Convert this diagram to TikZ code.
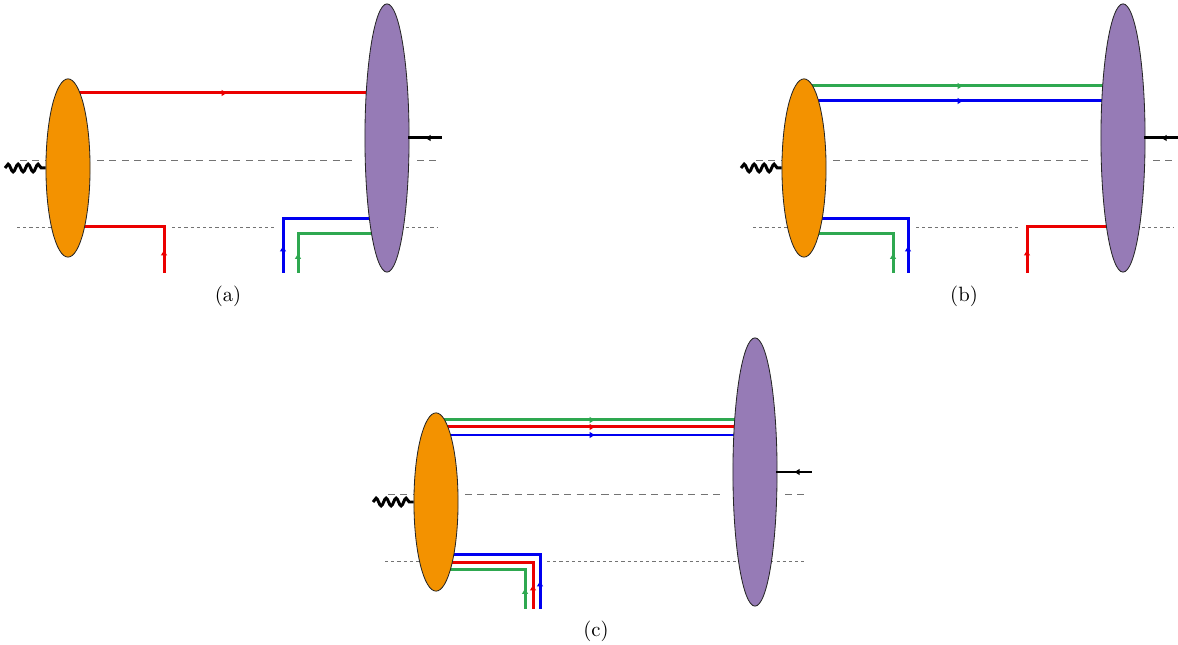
\documentclass[tikz,border=0pt]{standalone}
\usepackage{xcolor}
\usepackage{tikz}
\usetikzlibrary{arrows.meta,positioning,shapes.geometric,backgrounds,decorations.pathmorphing,decorations.markings}

\definecolor{blobOrange}{RGB}{243,146,0}
\definecolor{blobPurple}{RGB}{150,123,182}
\definecolor{qred}{RGB}{235,0,0}
\definecolor{qblue}{RGB}{0,0,240}
\definecolor{qgreen}{RGB}{46,168,80}

\begin{document}
\begin{tikzpicture}[
  x=0.017cm, y=-0.017cm,
  hadron/.style={draw=black!85, ellipse, inner sep=0pt, fill=blobOrange,
                 minimum width=0.75cm, minimum height=3.03cm},
  target/.style={draw=black!85, ellipse, inner sep=0pt, fill=blobPurple,
                 minimum width=0.75cm, minimum height=4.56cm},
  quark/.style={line width=1.45pt, line cap=rect},
  midarrow/.style={postaction={decorate}, decoration={markings,
                   mark=at position 0.5 with {\arrow{Latex[length=2.8pt,width=3.2pt]}}}},
  cut/.style={draw=black!55, line width=0.45pt, dash pattern=on 3.4pt off 2.6pt},
  floor/.style={draw=black!55, line width=0.45pt, dash pattern=on 1.5pt off 1.5pt},
  photon/.style={line width=1.45pt, decorate,
                 decoration={snake, amplitude=0.065cm, segment length=0.17cm}}
]
\useasboundingbox (0,0) rectangle (1178,645);

% (a)
\begin{scope}[shift={(68,168)}]
  \node[hadron] (oa) at (0,0) {};
  \node[target] (pa) at (319,-30) {};
  \node (la) at (160,128) {(a)};
  \coordinate (a-top) at (0,-75);
  \coordinate (a-rb) at (96,104);
  \coordinate (a-bb) at (215,104);
  \coordinate (a-gb) at (230,104);
  \coordinate (a-k) at (372,-30);
  \begin{pgfonlayer}{background}
    \draw[cut] (-48,-8) -- (0,-8) (29,-8) -- (284,-8) (349,-8) -- (369,-8);
    \draw[floor] (-51,59) -- (0,59) (104,59) -- (207,59) (319,59) -- (369,59);
    \draw[quark, qred, midarrow] (a-top) -- (a-top -| pa);
    \draw[quark, qred, midarrow] (a-rb) -- ++(0,-45) coordinate (a-rc);
    \draw[quark, qred] (a-rc) -- (a-rc -| oa);
    \draw[quark, qblue, midarrow] (a-bb) -- ++(0,-53) coordinate (a-bc);
    \draw[quark, qblue] (a-bc) -- (a-bc -| pa);
    \draw[quark, qgreen, midarrow] (a-gb) -- ++(0,-38) coordinate (a-gc);
    \draw[quark, qgreen] (a-gc) -- (a-gc -| pa);
  \end{pgfonlayer}
  \draw[photon] (-63,0) -- (oa.west);
  \draw[quark, midarrow] (a-k) -- (pa.east);
\end{scope}

% (b)
\begin{scope}[shift={(804,168)}]
  \node[hadron] (ob) at (0,0) {};
  \node[target] (pb) at (319,-30) {};
  \node (lb) at (160,128) {(b)};
  \coordinate (b-gt) at (0,-82);
  \coordinate (b-bt) at (0,-67);
  \coordinate (b-bb) at (104,104);
  \coordinate (b-gb) at (89,104);
  \coordinate (b-rb) at (223,104);
  \coordinate (b-k) at (372,-30);
  \begin{pgfonlayer}{background}
    \draw[cut] (-48,-8) -- (0,-8) (29,-8) -- (284,-8) (349,-8) -- (369,-8);
    \draw[floor] (-51,59) -- (0,59) (112,59) -- (215,59) (319,59) -- (369,59);
    \draw[quark, qgreen, midarrow] (b-gt) -- (b-gt -| pb);
    \draw[quark, qblue, midarrow] (b-bt) -- (b-bt -| pb);
    \draw[quark, qblue, midarrow] (b-bb) -- ++(0,-53) coordinate (b-bc);
    \draw[quark, qblue] (b-bc) -- (b-bc -| ob);
    \draw[quark, qgreen, midarrow] (b-gb) -- ++(0,-38) coordinate (b-gc);
    \draw[quark, qgreen] (b-gc) -- (b-gc -| ob);
    \draw[quark, qred, midarrow] (b-rb) -- ++(0,-45) coordinate (b-rc);
    \draw[quark, qred] (b-rc) -- (b-rc -| pb);
  \end{pgfonlayer}
  \draw[photon] (-63,0) -- (ob.west);
  \draw[quark, midarrow] (b-k) -- (pb.east);
\end{scope}

% (c)
\begin{scope}[shift={(436,502)}]
  \node[hadron] (oc) at (0,0) {};
  \node[target] (pc) at (319,-30) {};
  \node (lc) at (160,129) {(c)};
  \coordinate (c-gt) at (0,-82);
  \coordinate (c-rt) at (0,-75);
  \coordinate (c-bt) at (0,-67);
  \coordinate (c-gb) at (89,105);
  \coordinate (c-rb) at (97,105);
  \coordinate (c-bb) at (104,105);
  \coordinate (c-k) at (374,-30);
  \begin{pgfonlayer}{background}
    \draw[cut] (-48,-8) -- (0,-8) (29,-8) -- (284,-8) (349,-8) -- (369,-8);
    \draw[floor] (-51,59) -- (0,59) (111,59) -- (369,59);
    \draw[quark, qgreen, midarrow] (c-gt) -- (c-gt -| pc);
    \draw[quark, qred, midarrow] (c-rt) -- (c-rt -| pc);
    \draw[quark, qblue, midarrow] (c-bt) -- (c-bt -| pc);
    \draw[quark, qgreen, midarrow] (c-gb) -- ++(0,-38) coordinate (c-gc);
    \draw[quark, qgreen] (c-gc) -- (c-gc -| oc);
    \draw[quark, qred, midarrow] (c-rb) -- ++(0,-45) coordinate (c-rc);
    \draw[quark, qred] (c-rc) -- (c-rc -| oc);
    \draw[quark, qblue, midarrow] (c-bb) -- ++(0,-53) coordinate (c-bc);
    \draw[quark, qblue] (c-bc) -- (c-bc -| oc);
  \end{pgfonlayer}
  \draw[photon] (-63,0) -- (oc.west);
  \draw[quark, midarrow] (c-k) -- (pc.east);
\end{scope}
\end{tikzpicture}
\end{document}
